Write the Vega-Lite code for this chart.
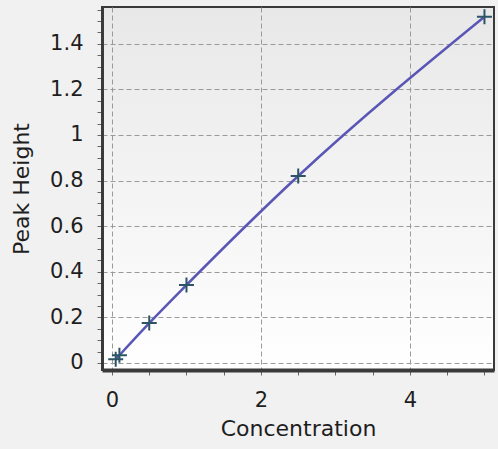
{
  "$schema": "https://vega.github.io/schema/vega-lite/v6.json",
  "width": 392,
  "height": 363,
  "autosize": "none",
  "padding": {"left": 102, "top": 7, "right": 4, "bottom": 79},
  "background": "#f1f1f1",
  "view": {
    "stroke": "#3a3a3a",
    "strokeWidth": 2,
    "fill": {"gradient": "linear", "x1": 0, "y1": 0, "x2": 0, "y2": 1, "stops": [{"offset": 0, "color": "#e8e8e8"}, {"offset": 1, "color": "#ffffff"}]}
  },
  "config": {
    "font": "DejaVu Sans",
    "axis": {
      "labelFont": "DejaVu Sans",
      "titleFont": "DejaVu Sans",
      "labelFontSize": 21,
      "titleFontSize": 22,
      "titleFontWeight": "normal",
      "labelColor": "#1e1e1e",
      "titleColor": "#1e1e1e",
      "tickColor": "#666666",
      "tickSize": 5,
      "domainColor": "#3a3a3a",
      "gridColor": "#9a9a9a",
      "gridDash": [5, 3],
      "gridWidth": 1,
      "labelFlush": false,
      "labelOverlap": false
    }
  },
  "data": {
    "values": [
      {"Concentration": 0.05, "PeakHeight": 0.016},
      {"Concentration": 0.1, "PeakHeight": 0.034},
      {"Concentration": 0.5, "PeakHeight": 0.175},
      {"Concentration": 1, "PeakHeight": 0.342},
      {"Concentration": 2.5, "PeakHeight": 0.82},
      {"Concentration": 5, "PeakHeight": 1.518}
    ]
  },
  "encoding": {
    "x": {
      "field": "Concentration",
      "type": "quantitative",
      "scale": {"domain": [-0.134, 5.128], "nice": false, "zero": false},
      "axis": {
        "title": "Concentration",
        "values": [0, 0.5, 1, 1.5, 2, 2.5, 3, 3.5, 4, 4.5, 5],
        "labelExpr": "datum.value % 2 == 0 ? format(datum.value, '~g') : ''",
        "gridOpacity": {"condition": {"test": "datum.value % 2 == 0", "value": 1}, "value": 0},
        "domainWidth": 4,
        "labelPadding": 14,
        "titlePadding": 8
      }
    },
    "y": {
      "field": "PeakHeight",
      "type": "quantitative",
      "scale": {"domain": [-0.0307, 1.561], "nice": false, "zero": false},
      "axis": {
        "title": "Peak Height",
        "values": [0, 0.05, 0.1, 0.15, 0.2, 0.25, 0.3, 0.35, 0.4, 0.45, 0.5, 0.55, 0.6, 0.65, 0.7, 0.75, 0.8, 0.85, 0.9, 0.95, 1, 1.05, 1.1, 1.15, 1.2, 1.25, 1.3, 1.35, 1.4, 1.45, 1.5, 1.55],
        "labelExpr": "abs(datum.value * 5 - round(datum.value * 5)) < 0.001 ? format(datum.value, '~g') : ''",
        "gridOpacity": {"condition": {"test": "abs(datum.value * 5 - round(datum.value * 5)) < 0.001", "value": 1}, "value": 0},
        "domainWidth": 3,
        "labelPadding": 14,
        "titlePadding": 16
      }
    }
  },
  "layer": [
    {
      "mark": {"type": "line", "interpolate": "monotone", "color": "#5a56b6", "strokeWidth": 2.5}
    },
    {
      "mark": {"type": "point", "shape": "M-1,0H1M0,-1V1", "filled": false, "stroke": "#2b5565", "strokeWidth": 2, "size": 225, "opacity": 1}
    }
  ]
}
